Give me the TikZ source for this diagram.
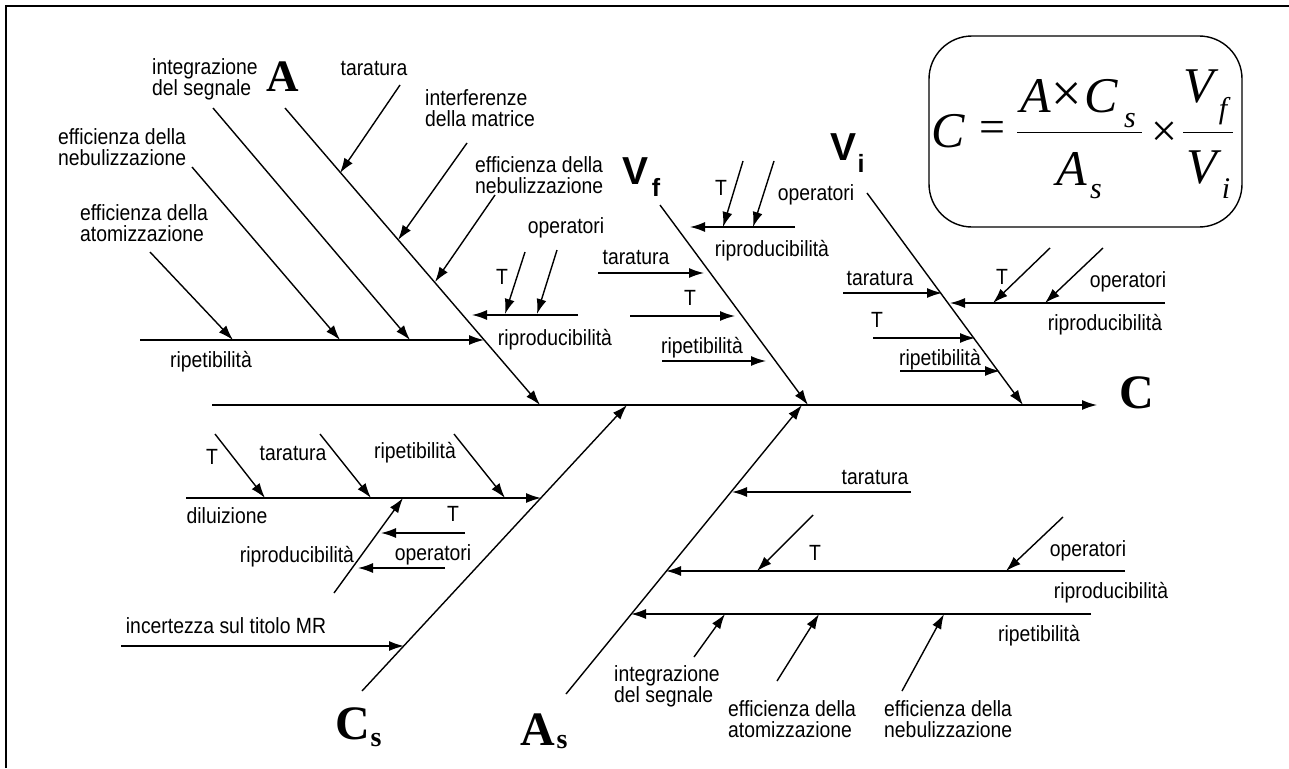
\documentclass[tikz,border=0pt]{standalone}
\usepackage{fontspec}
\setmainfont{Liberation Sans}
\newfontfamily\tms{Liberation Serif}
\newfontfamily\lblf{Liberation Sans}[FakeStretch=0.88]
\usetikzlibrary{arrows.meta}
\newcommand\lblfont{\lblf\fontsize{22}{21}\selectfont}
\begin{document}
\begin{tikzpicture}[x=1pt,y=-1pt,
  arr/.style={line width=1.4pt,-{Latex[length=15pt,width=10pt]}},
  lbl/.style={font=\lblfont, inner sep=0pt, align=left},
  bigser/.style={font=\tms\bfseries\fontsize{48}{50}\selectfont, inner sep=0pt},
  subser/.style={font=\tms\bfseries\fontsize{28}{30}\selectfont, inner sep=0pt},
  bigsans/.style={font=\bfseries\fontsize{39}{42}\selectfont, inner sep=0pt},
  subsans/.style={font=\bfseries\fontsize{25}{27}\selectfont, inner sep=0pt},
  fbig/.style={font=\tms\itshape\fontsize{50}{52}\selectfont, inner sep=0pt, anchor=base},
  fsub/.style={font=\tms\itshape\fontsize{30}{32}\selectfont, inner sep=0pt, anchor=base},
  fop/.style={font=\tms\fontsize{46}{48}\selectfont, inner sep=0pt}]
\useasboundingbox (0,0) rectangle (1289,768);
\fill[white] (0,0) rectangle (1289,768);
% frame
\coordinate (fr1) at (6,768); \coordinate (fr2) at (6,6); \coordinate (fr3) at (1289,6);
\draw[line width=1.5pt] (fr1) -- (fr2) -- (fr3);

% main spine
\coordinate (S0) at (212,405); \coordinate (S1) at (1097,405);
\draw[arr] (S0) -- (S1);
\node[bigser] (labC) at (1137,393) {C};

% ================= A bone =================
\coordinate (A0) at (285,108); \coordinate (A1) at (540,405);
\draw[arr] (A0) -- (A1);
\node[bigser,font=\tms\bfseries\fontsize{45}{47}\selectfont] (labA) at (283,77) {A};
\coordinate (Ar0) at (140,340); \coordinate (Ar1) at (484,340);
\draw[arr] (Ar0) -- (Ar1);
\coordinate (Aa0) at (150,252); \coordinate (Aa1) at (233,340);
\draw[arr] (Aa0) -- (Aa1);
\coordinate (An0) at (192,167); \coordinate (An1) at (340,340);
\draw[arr] (An0) -- (An1);
\coordinate (Ai0) at (213,108); \coordinate (Ai1) at (410,340);
\draw[arr] (Ai0) -- (Ai1);
\coordinate (At0) at (400,85); \coordinate (At1) at (340,173);
\draw[arr] (At0) -- (At1);
\coordinate (Am0) at (467,143); \coordinate (Am1) at (398,240);
\draw[arr] (Am0) -- (Am1);
\coordinate (Ab0) at (495,195); \coordinate (Ab1) at (435,282);
\draw[arr] (Ab0) -- (Ab1);
\coordinate (Ap0) at (578,315); \coordinate (Ap1) at (472,315);
\draw[arr] (Ap0) -- (Ap1);
\coordinate (ApT0) at (525,252); \coordinate (ApT1) at (505,314);
\draw[arr] (ApT0) -- (ApT1);
\coordinate (ApO0) at (557,250); \coordinate (ApO1) at (537,314);
\draw[arr] (ApO0) -- (ApO1);
\node[lbl,anchor=west] (tAi) at (152,79) {integrazione\\del segnale};
\node[lbl] (tAt) at (374,68) {taratura};
\node[lbl,anchor=west] (tAm) at (425,108) {interferenze\\della matrice};
\node[lbl,anchor=west] (tAn) at (58,147.5) {efficienza della\\nebulizzazione};
\node[lbl,anchor=west] (tAa) at (80,223) {efficienza della\\atomizzazione};
\node[lbl,anchor=west] (tAb) at (475,175) {efficienza della\\nebulizzazione};
\node[lbl] (tAr) at (211,362) {ripetibilità};
\node[lbl] (tApT) at (502,277) {T};
\node[lbl] (tApO) at (566,228) {operatori};
\node[lbl] (tAp) at (555,340) {riproducibilità};

% ================= Vf bone =================
\coordinate (F0) at (660,205); \coordinate (F1) at (808,405);
\draw[arr] (F0) -- (F1);
\node[bigsans] (labVf) at (635,171) {V};
\node[subsans] (labVfs) at (656,187) {f};
\coordinate (Ft0) at (598,273); \coordinate (Ft1) at (704,273);
\draw[arr] (Ft0) -- (Ft1);
\coordinate (FT0) at (630,316); \coordinate (FT1) at (735,316);
\draw[arr] (FT0) -- (FT1);
\coordinate (Fr0) at (662,361); \coordinate (Fr1) at (766,361);
\draw[arr] (Fr0) -- (Fr1);
\coordinate (Fp0) at (795,227); \coordinate (Fp1) at (690,227);
\draw[arr] (Fp0) -- (Fp1);
\coordinate (FpT0) at (743,161); \coordinate (FpT1) at (723,227);
\draw[arr] (FpT0) -- (FpT1);
\coordinate (FpO0) at (774,161); \coordinate (FpO1) at (753,227);
\draw[arr] (FpO0) -- (FpO1);
\node[lbl] (tFt) at (636,257) {taratura};
\node[lbl] (tFT) at (690,298) {T};
\node[lbl] (tFr) at (702,348) {ripetibilità};
\node[lbl] (tFpT) at (721,188) {T};
\node[lbl] (tFpO) at (816,195) {operatori};
\node[lbl] (tFp) at (772,251) {riproducibilità};

% ================= Vi bone =================
\coordinate (I0) at (867,193); \coordinate (I1) at (1023,405);
\draw[arr] (I0) -- (I1);
\node[bigsans] (labVi) at (843,147) {V};
\node[subsans] (labVis) at (861,163) {i};
\coordinate (It0) at (843,293); \coordinate (It1) at (942,293);
\draw[arr] (It0) -- (It1);
\coordinate (IT0) at (873,338); \coordinate (IT1) at (975,338);
\draw[arr] (IT0) -- (IT1);
\coordinate (Ir0) at (900,371); \coordinate (Ir1) at (1000,371);
\draw[arr] (Ir0) -- (Ir1);
\coordinate (Ip0) at (1165,303); \coordinate (Ip1) at (950,303);
\draw[arr] (Ip0) -- (Ip1);
\coordinate (IpT0) at (1050,248); \coordinate (IpT1) at (993,303);
\draw[arr] (IpT0) -- (IpT1);
\coordinate (IpO0) at (1103,248); \coordinate (IpO1) at (1045,303);
\draw[arr] (IpO0) -- (IpO1);
\node[lbl] (tIt) at (880,278) {taratura};
\node[lbl] (tIT) at (877,320) {T};
\node[lbl] (tIr) at (940,360) {ripetibilità};
\node[lbl] (tIpT) at (1002,277) {T};
\node[lbl] (tIpO) at (1128,282) {operatori};
\node[lbl] (tIp) at (1105,325) {riproducibilità};

% ================= Cs bone =================
\coordinate (CS0) at (362,691); \coordinate (CS1) at (627,405);
\draw[arr] (CS0) -- (CS1);
\node[bigser] (labCs) at (353,724) {C};
\node[subser] (labCss) at (376,740) {s};
\coordinate (Cd0) at (186,498); \coordinate (Cd1) at (541,498);
\draw[arr] (Cd0) -- (Cd1);
\coordinate (CdT0) at (215,434); \coordinate (CdT1) at (265,498);
\draw[arr] (CdT0) -- (CdT1);
\coordinate (Cdt0) at (320,434); \coordinate (Cdt1) at (371,498);
\draw[arr] (Cdt0) -- (Cdt1);
\coordinate (Cdr0) at (454,434); \coordinate (Cdr1) at (505,498);
\draw[arr] (Cdr0) -- (Cdr1);
\coordinate (Cp0) at (334,593); \coordinate (Cp1) at (403,498);
\draw[arr] (Cp0) -- (Cp1);
\coordinate (CpT0) at (465,533); \coordinate (CpT1) at (381,533);
\draw[arr] (CpT0) -- (CpT1);
\coordinate (CpO0) at (445,568); \coordinate (CpO1) at (358,568);
\draw[arr] (CpO0) -- (CpO1);
\coordinate (Ci0) at (121,646); \coordinate (Ci1) at (404,646);
\draw[arr] (Ci0) -- (Ci1);
\node[lbl] (tCdT) at (212,457) {T};
\node[lbl] (tCdt) at (293,453) {taratura};
\node[lbl] (tCdr) at (415,453) {ripetibilità};
\node[lbl] (tCd) at (227,516) {diluizione};
\node[lbl] (tCpT) at (453,514) {T};
\node[lbl] (tCpO) at (433,555) {operatori};
\node[lbl] (tCp) at (297,557) {riproducibilità};
\node[lbl] (tCi) at (226,626) {incertezza sul titolo MR};

% ================= As bone =================
\coordinate (AS0) at (566,694); \coordinate (AS1) at (802,405);
\draw[arr] (AS0) -- (AS1);
\node[bigser] (labAs) at (538,730) {A};
\node[subser] (labAss) at (562,742) {s};
\coordinate (Bt0) at (911,492); \coordinate (Bt1) at (732,492);
\draw[arr] (Bt0) -- (Bt1);
\coordinate (Bp0) at (1125,571); \coordinate (Bp1) at (666,571);
\draw[arr] (Bp0) -- (Bp1);
\coordinate (BpT0) at (813,515); \coordinate (BpT1) at (757,571);
\draw[arr] (BpT0) -- (BpT1);
\coordinate (BpO0) at (1063,517); \coordinate (BpO1) at (1006,571);
\draw[arr] (BpO0) -- (BpO1);
\coordinate (Br0) at (1091,614); \coordinate (Br1) at (631,614);
\draw[arr] (Br0) -- (Br1);
\coordinate (Bi0) at (694,657); \coordinate (Bi1) at (725,614);
\draw[arr] (Bi0) -- (Bi1);
\coordinate (Ba0) at (777,681); \coordinate (Ba1) at (819,614);
\draw[arr] (Ba0) -- (Ba1);
\coordinate (Bn0) at (902,691); \coordinate (Bn1) at (944,614);
\draw[arr] (Bn0) -- (Bn1);
\node[lbl] (tBt) at (875,477) {taratura};
\node[lbl] (tBpT) at (815,553) {T};
\node[lbl] (tBpO) at (1088,551) {operatori};
\node[lbl] (tBp) at (1111,593) {riproducibilità};
\node[lbl] (tBr) at (1039,636) {ripetibilità};
\node[lbl,anchor=west] (tBi) at (614,686.5) {integrazione\\del segnale};
\node[lbl,anchor=west] (tBa) at (728,719.5) {efficienza della\\atomizzazione};
\node[lbl,anchor=west] (tBn) at (884,719) {efficienza della\\nebulizzazione};

% ================= formula =================
\coordinate (bx0) at (929,36); \coordinate (bx1) at (1242,227);
\draw[line width=1.4pt, rounded corners=43pt] (bx0) rectangle (bx1);
\node[fbig] (fC) at (948,147) {C};
\node[fop] (fEq) at (992,132) {=};
\node[fbig] (fA) at (1036,112) {A};
\node[fop,font=\tms\fontsize{54}{56}\selectfont] (fX1) at (1067,97) {×};
\node[fbig] (fCs) at (1101,112) {C};
\node[fsub] (fCss) at (1130,127) {s};
\coordinate (fb1a) at (1017,132); \coordinate (fb1b) at (1142,132);
\draw[line width=0.8pt] (fb1a) -- (fb1b);
\node[fbig] (fAs) at (1072,185) {A};
\node[fsub] (fAss) at (1096,198) {s};
\node[fop] (fX2) at (1164,134) {×};
\node[fbig] (fVf) at (1199,102) {V};
\node[fsub] (fVff) at (1223,118) {f};
\coordinate (fb2a) at (1183,132); \coordinate (fb2b) at (1233,132);
\draw[line width=0.8pt] (fb2a) -- (fb2b);
\node[fbig] (fVi) at (1202,183) {V};
\node[fsub] (fVii) at (1226,198) {i};
\end{tikzpicture}
\end{document}
